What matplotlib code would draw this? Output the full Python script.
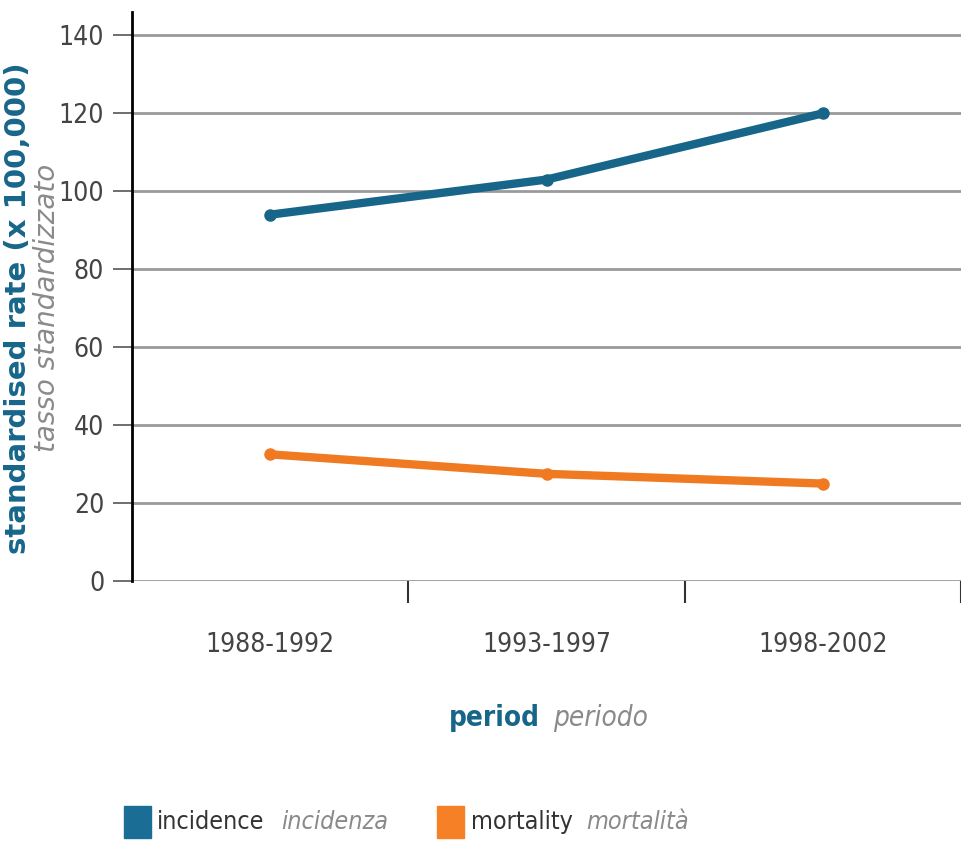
import matplotlib
matplotlib.use("Agg")
import matplotlib.pyplot as plt
from matplotlib.patches import Rectangle

periods = ["1988-1992", "1993-1997", "1998-2002"]
incidence = [94, 103, 120]
mortality = [32.5, 27.5, 25]
yticks = [0, 20, 40, 60, 80, 100, 120, 140]

teal = "#17668a"
orange = "#f07a22"
grey_txt = "#8a8a8a"
cond = dict(family="DejaVu Sans", stretch="condensed")

fig = plt.figure(figsize=(9.61, 8.43), dpi=100)
ax = fig.add_axes([132 / 961, 1 - 581 / 843, 829 / 961, 569 / 843])

x = range(len(periods))
ax.plot(x, incidence, color=teal, lw=6, marker="o", ms=8, solid_capstyle="round", zorder=3)
ax.plot(x, mortality, color=orange, lw=6, marker="o", ms=8, solid_capstyle="round", zorder=3)

ax.set_xlim(-0.5, 2.5)
ax.set_ylim(0, 146)
ax.set_yticks(yticks)
ax.set_yticklabels([str(v) for v in yticks], fontsize=19, color="#444444", **cond)
ax.yaxis.grid(True, color="#9a9a9a", lw=2)
ax.set_axisbelow(True)

# category labels in the middle, tick marks on the boundaries
ax.set_xticks([0.5, 1.5, 2.5])
ax.set_xticklabels([])
ax.set_xticks(list(x), minor=True)
ax.set_xticklabels(periods, minor=True, fontsize=19, color="#444444", **cond)
ax.tick_params(axis="x", which="major", length=16, width=1.5, color="#333333", direction="out")
ax.tick_params(axis="x", which="minor", length=0, pad=37)
ax.tick_params(axis="y", length=14, width=1.2, color="#555555", pad=6)

for s in ["top", "right", "bottom"]:
    ax.spines[s].set_visible(False)
ax.spines["left"].set_color("black")
ax.spines["left"].set_linewidth(2)

# y label (two lines)
fig.text(18 / 961, 1 - 308 / 843, "standardised rate (x 100,000)", rotation=90,
         ha="center", va="center", color=teal, fontsize=21, fontweight="bold")
fig.text(47 / 961, 1 - 308 / 843, "tasso standardizzato", rotation=90,
         ha="center", va="center", color=grey_txt, fontsize=20, style="italic")

# x label
fig.text(540 / 961, 1 - 718 / 843, "period", ha="right", va="center",
         color=teal, fontsize=20, fontweight="bold", stretch="condensed")
fig.text(553 / 961, 1 - 718 / 843, "periodo", ha="left", va="center",
         color=grey_txt, fontsize=20, style="italic", stretch="condensed")

# legend
fig.patches.append(Rectangle((124 / 961, 1 - 838 / 843), 27 / 961, 32 / 843,
                             transform=fig.transFigure, color="#1a6d95", figure=fig))
fig.text(157 / 961, 1 - 822 / 843, "incidence", va="center", color="#333333", fontsize=18, **cond)
fig.text(281 / 961, 1 - 822 / 843, "incidenza", va="center", color=grey_txt, fontsize=18,
         style="italic", **cond)
fig.patches.append(Rectangle((437 / 961, 1 - 838 / 843), 27 / 961, 32 / 843,
                             transform=fig.transFigure, color="#f58025", figure=fig))
fig.text(471 / 961, 1 - 822 / 843, "mortality", va="center", color="#333333", fontsize=18, **cond)
fig.text(586 / 961, 1 - 822 / 843, "mortalità", va="center", color=grey_txt, fontsize=18,
         style="italic", **cond)

fig.savefig("out.png", dpi=100)
